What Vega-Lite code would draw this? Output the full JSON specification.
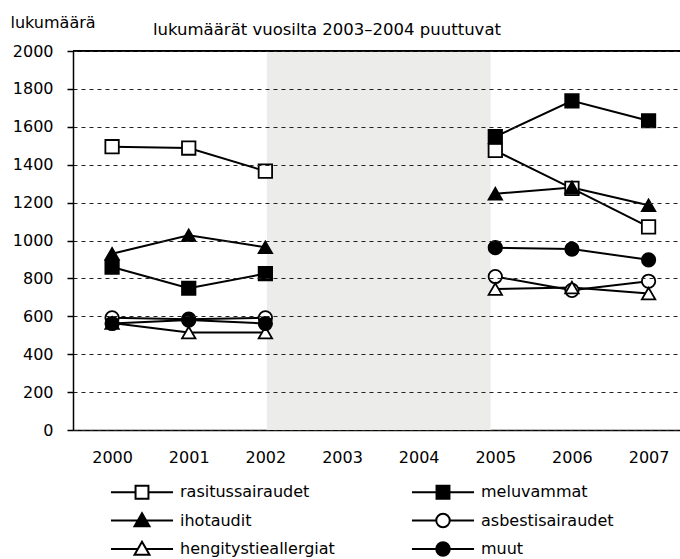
{
  "$schema": "https://vega.github.io/schema/vega-lite/v6.json",
  "width": 607,
  "height": 379,
  "autosize": "none",
  "padding": {"left": 73, "top": 51, "right": 0, "bottom": 129},
  "background": "white",
  "config": {
    "font": "DejaVu Sans",
    "view": {"stroke": null},
    "axis": {"labelColor": "black", "labelFontSize": 16, "titleColor": "black", "titleFontWeight": "normal", "titleFontSize": 16}
  },
  "title": {
    "text": "lukumäärät vuosilta 2003–2004 puuttuvat",
    "anchor": "start",
    "frame": "group",
    "dx": 80,
    "fontSize": 16.5,
    "fontWeight": "normal",
    "color": "black",
    "baseline": "alphabetic",
    "offset": -37
  },
  "data": {
    "values": [
      {"year": 2000, "series": "rasitussairaudet", "value": 1495, "seg": "a"},
      {"year": 2001, "series": "rasitussairaudet", "value": 1488, "seg": "a"},
      {"year": 2002, "series": "rasitussairaudet", "value": 1366, "seg": "a"},
      {"year": 2005, "series": "rasitussairaudet", "value": 1475, "seg": "b"},
      {"year": 2006, "series": "rasitussairaudet", "value": 1275, "seg": "b"},
      {"year": 2007, "series": "rasitussairaudet", "value": 1072, "seg": "b"},
      {"year": 2000, "series": "meluvammat", "value": 860, "seg": "a"},
      {"year": 2001, "series": "meluvammat", "value": 748, "seg": "a"},
      {"year": 2002, "series": "meluvammat", "value": 825, "seg": "a"},
      {"year": 2005, "series": "meluvammat", "value": 1548, "seg": "b"},
      {"year": 2006, "series": "meluvammat", "value": 1737, "seg": "b"},
      {"year": 2007, "series": "meluvammat", "value": 1632, "seg": "b"},
      {"year": 2000, "series": "ihotaudit", "value": 930, "seg": "a"},
      {"year": 2001, "series": "ihotaudit", "value": 1027, "seg": "a"},
      {"year": 2002, "series": "ihotaudit", "value": 964, "seg": "a"},
      {"year": 2005, "series": "ihotaudit", "value": 1247, "seg": "b"},
      {"year": 2006, "series": "ihotaudit", "value": 1280, "seg": "b"},
      {"year": 2007, "series": "ihotaudit", "value": 1186, "seg": "b"},
      {"year": 2000, "series": "asbestisairaudet", "value": 592, "seg": "a"},
      {"year": 2001, "series": "asbestisairaudet", "value": 585, "seg": "a"},
      {"year": 2002, "series": "asbestisairaudet", "value": 592, "seg": "a"},
      {"year": 2005, "series": "asbestisairaudet", "value": 810, "seg": "b"},
      {"year": 2006, "series": "asbestisairaudet", "value": 737, "seg": "b"},
      {"year": 2007, "series": "asbestisairaudet", "value": 785, "seg": "b"},
      {"year": 2000, "series": "hengitystieallergiat", "value": 565, "seg": "a"},
      {"year": 2001, "series": "hengitystieallergiat", "value": 514, "seg": "a"},
      {"year": 2002, "series": "hengitystieallergiat", "value": 514, "seg": "a"},
      {"year": 2005, "series": "hengitystieallergiat", "value": 744, "seg": "b"},
      {"year": 2006, "series": "hengitystieallergiat", "value": 752, "seg": "b"},
      {"year": 2007, "series": "hengitystieallergiat", "value": 720, "seg": "b"},
      {"year": 2000, "series": "muut", "value": 562, "seg": "a"},
      {"year": 2001, "series": "muut", "value": 580, "seg": "a"},
      {"year": 2002, "series": "muut", "value": 562, "seg": "a"},
      {"year": 2005, "series": "muut", "value": 962, "seg": "b"},
      {"year": 2006, "series": "muut", "value": 955, "seg": "b"},
      {"year": 2007, "series": "muut", "value": 898, "seg": "b"}
    ]
  },
  "encoding": {
    "x": {
      "field": "year",
      "type": "quantitative",
      "scale": {"domain": [1999.49, 2007.41], "nice": false, "zero": false},
      "axis": {
        "title": null,
        "values": [2000, 2001, 2002, 2003, 2004, 2005, 2006, 2007],
        "format": "d",
        "ticks": false,
        "grid": false,
        "labelPadding": 19,
        "labelFlush": false,
        "labelOverlap": false,
        "domainColor": "black",
        "domainWidth": 1.5
      }
    },
    "y": {
      "field": "value",
      "type": "quantitative",
      "scale": {"domain": [0, 2000], "nice": false},
      "axis": {
        "title": "lukumäärä",
        "titleAngle": 0,
        "titleX": -63,
        "titleY": -24,
        "titleAlign": "left",
        "titleBaseline": "alphabetic",
        "values": [0, 200, 400, 600, 800, 1000, 1200, 1400, 1600, 1800, 2000],
        "format": "d",
        "tickSize": 6,
        "tickColor": "black",
        "tickWidth": 1.5,
        "domainColor": "black",
        "domainWidth": 1.5,
        "labelPadding": 14,
        "grid": true,
        "gridDash": [4, 4],
        "gridColor": "#222",
        "gridWidth": 1,
        "zindex": 1
      }
    }
  },
  "layer": [
    {
      "data": {"values": [{"band_start": 2002.02, "band_end": 2004.94}]},
      "mark": {"type": "rect", "fill": "#ececea"},
      "encoding": {
        "x": {"field": "band_start", "type": "quantitative"},
        "x2": {"field": "band_end"},
        "y": null
      }
    },
    {
      "mark": {"type": "rule", "color": "black", "strokeWidth": 1.5},
      "encoding": {"x": null, "y": {"datum": 2000}}
    },
    {
      "mark": {"type": "line", "color": "black", "strokeWidth": 2},
      "encoding": {
        "detail": [{"field": "series"}, {"field": "seg"}]
      }
    },
    {
      "mark": {"type": "point", "filled": true, "stroke": "black", "strokeWidth": 1.8, "size": 180, "opacity": 1},
      "encoding": {
        "shape": {
          "field": "series",
          "scale": {
            "domain": ["rasitussairaudet", "meluvammat", "ihotaudit", "asbestisairaudet", "hengitystieallergiat", "muut"],
            "range": ["square", "square", "triangle-up", "circle", "triangle-up", "circle"]
          },
          "legend": null
        },
        "fill": {
          "field": "series",
          "scale": {
            "domain": ["rasitussairaudet", "meluvammat", "ihotaudit", "asbestisairaudet", "hengitystieallergiat", "muut"],
            "range": ["white", "black", "black", "white", "white", "black"]
          },
          "legend": null
        }
      }
    },
    {
      "mark": {"type": "point", "filled": true, "stroke": "black", "strokeWidth": 2, "opacity": 0},
      "encoding": {
        "shape": {
          "field": "series",
          "scale": {
            "domain": ["rasitussairaudet", "meluvammat", "ihotaudit", "asbestisairaudet", "hengitystieallergiat", "muut"],
            "range": [
              "M-2.07,0H-0.43M0.43,0H2.07M-0.43,-0.43H0.43V0.43H-0.43Z",
              "M-2.07,0H2.07M-0.43,-0.43H0.43V0.43H-0.43Z",
              "M-2.07,0H2.07M0,-0.49L0.5,0.39H-0.5Z",
              "M-2.07,0H-0.45M0.45,0H2.07M-0.45,0A0.45,0.45,0,1,0,0.45,0A0.45,0.45,0,1,0,-0.45,0Z",
              "M-2.07,0H-0.28M0.28,0H2.07M0,-0.49L0.5,0.39H-0.5Z",
              "M-2.07,0H2.07M-0.45,0A0.45,0.45,0,1,0,0.45,0A0.45,0.45,0,1,0,-0.45,0Z"
            ]
          },
          "legend": {
            "title": null,
            "orient": "none",
            "direction": "horizontal",
            "legendX": 53,
            "legendY": 425,
            "columns": 2,
            "columnPadding": 72,
            "rowPadding": 1.5,
            "symbolSize": 900,
            "symbolOpacity": 1,
            "symbolStrokeWidth": 2,
            "symbolStrokeColor": "black",
            "labelFontSize": 16,
            "labelColor": "black",
            "labelOffset": 22,
            "labelLimit": 300,
            "encode": {"symbols": {"update": {"stroke": {"value": "black"}, "strokeWidth": {"value": 2}, "opacity": {"value": 1}, "strokeOpacity": {"value": 1}, "fillOpacity": {"value": 1}}}}
          }
        },
        "fill": {
          "field": "series",
          "scale": {
            "domain": ["rasitussairaudet", "meluvammat", "ihotaudit", "asbestisairaudet", "hengitystieallergiat", "muut"],
            "range": ["white", "black", "black", "white", "white", "black"]
          },
          "legend": {
            "title": null,
            "orient": "none",
            "direction": "horizontal",
            "legendX": 53,
            "legendY": 425,
            "columns": 2,
            "columnPadding": 72,
            "rowPadding": 1.5,
            "symbolSize": 900,
            "symbolOpacity": 1,
            "symbolStrokeWidth": 2,
            "symbolStrokeColor": "black",
            "labelFontSize": 16,
            "labelColor": "black",
            "labelOffset": 22,
            "labelLimit": 300,
            "encode": {"symbols": {"update": {"stroke": {"value": "black"}, "strokeWidth": {"value": 2}, "opacity": {"value": 1}, "strokeOpacity": {"value": 1}, "fillOpacity": {"value": 1}}}}
          }
        }
      }
    }
  ],
  "resolve": {"scale": {"shape": "independent", "fill": "independent"}}
}
